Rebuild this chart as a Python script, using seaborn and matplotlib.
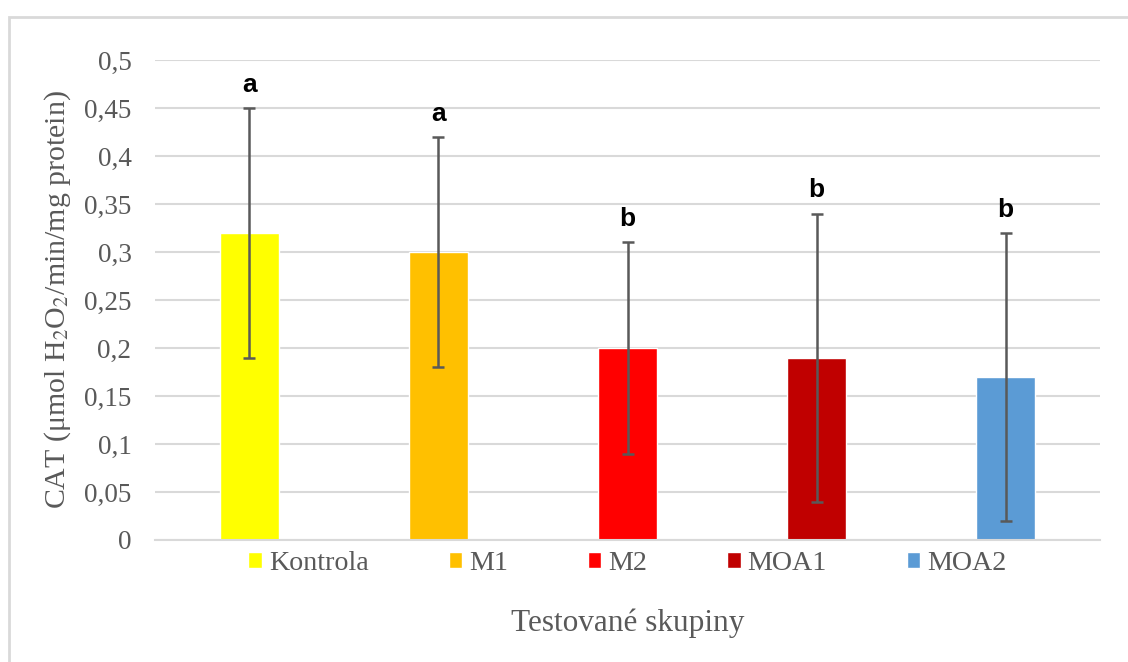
import pandas as pd
import seaborn as sns
import matplotlib.pyplot as plt
import matplotlib.ticker as mticker
from matplotlib.patches import Rectangle

# data
groups = ['Kontrola', 'M1', 'M2', 'MOA1', 'MOA2']
values = [0.32, 0.30, 0.20, 0.19, 0.17]
errors = [0.13, 0.12, 0.11, 0.15, 0.15]
letters = ['a', 'a', 'b', 'b', 'b']
colors = ['#FFFF00', '#FFC000', '#FF0000', '#C00000', '#5B9BD5']

df = pd.DataFrame({'skupina': groups, 'cat': values, 'sd': errors})

sns.set_theme(style="whitegrid")
plt.rcParams['font.family'] = ['Liberation Serif', 'DejaVu Serif']
plt.rcParams['mathtext.fontset'] = 'stix'

gray_txt = '#595959'
grid_col = '#D9D9D9'

fig = plt.figure(figsize=(11.28, 6.62), dpi=100)
ax = fig.add_axes([0.1374, 0.1843, 0.8378, 0.7251])

sns.barplot(data=df, x='skupina', y='cat', hue='skupina', palette=colors,
            width=0.31, saturation=1, legend=True, ax=ax)

# chybove usecky
ax.errorbar(range(len(groups)), df['cat'], yerr=df['sd'], fmt='none',
            ecolor=gray_txt, elinewidth=1.8, capsize=4.5, capthick=1.8, zorder=5)

# pismena signifikance
for i, (v, e, l) in enumerate(zip(values, errors, letters)):
    ax.annotate(l, (i, v + e), xytext=(0, 8), textcoords='offset points',
                ha='center', va='bottom', fontsize=19, fontweight='bold',
                family=['Liberation Sans', 'DejaVu Sans'], color='black')

ax.set_ylim(0, 0.5)
ax.set_xlim(-0.5, 4.5)
ax.yaxis.set_major_locator(mticker.MultipleLocator(0.05))
ax.yaxis.set_major_formatter(mticker.FuncFormatter(
    lambda v, p: '0' if abs(v) < 1e-9 else f'{v:.2f}'.rstrip('0').replace('.', ',')))
ax.set_xticks([])
ax.tick_params(axis='y', length=0, pad=17, labelsize=19.5, labelcolor=gray_txt)

ax.grid(axis='y', color=grid_col, linewidth=1.5)
ax.grid(axis='x', visible=False)
for s in ['top', 'right', 'left']:
    ax.spines[s].set_visible(False)
ax.spines['bottom'].set_color(grid_col)
ax.spines['bottom'].set_linewidth(1.5)
ax.set_facecolor('white')
ax.set_axisbelow(True)

ax.set_ylabel(r'CAT (μmol H$_2$O$_2$/min/mg protein)', fontsize=21.5,
              color=gray_txt, labelpad=8)
ax.set_xlabel('Testované skupiny', fontsize=22.5, color=gray_txt, labelpad=49)

sns.move_legend(ax, 'upper center', bbox_to_anchor=(0.5, 0.03), ncol=5,
                frameon=False, title=None, fontsize=20.2, handlelength=0.48,
                handleheight=0.48, handletextpad=0.25, columnspacing=2.85)
for t in ax.get_legend().get_texts():
    t.set_color(gray_txt)

# ramecek grafu
fig.patches.append(Rectangle((9 / 1128, -0.05), 1.2, 1 - 17 / 662 + 0.05,
                             transform=fig.transFigure, fill=False,
                             edgecolor=grid_col, linewidth=2))

plt.savefig('out.png', dpi=100)
